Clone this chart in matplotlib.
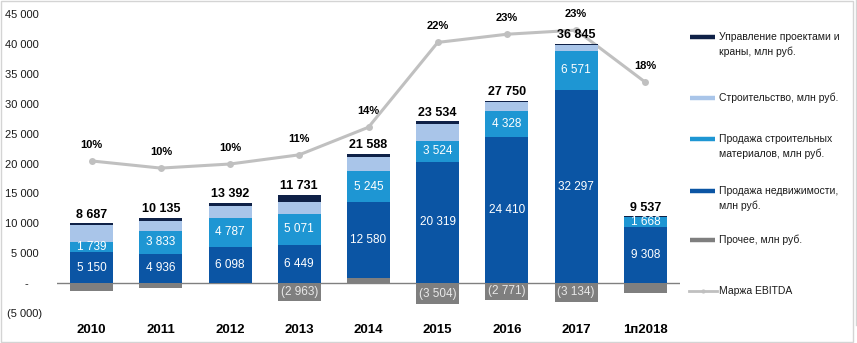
import matplotlib
matplotlib.use("Agg")
import matplotlib.pyplot as plt
from matplotlib.lines import Line2D
from matplotlib.patches import Rectangle
import numpy as np

plt.rcParams['font.family'] = ['Liberation Sans', 'DejaVu Sans']

# Revenue by segment, mln RUB
periods = ['2010', '2011', '2012', '2013', '2014', '2015', '2016', '2017', '1п2018']
real_estate = [5150, 4936, 6098, 6449, 12580, 20319, 24410, 32297, 9308]
materials = [1739, 3833, 4787, 5071, 5245, 3524, 4328, 6571, 1668]
construction = [2750, 1666, 1990, 2050, 2300, 2738, 1463, 880, 0]
management = [348, 500, 517, 1124, 563, 457, 320, 231, 181]
other = [-1300, -800, 0, -2963, 900, -3504, -2771, -3134, -1620]
# EBITDA margin, %
ebitda_margin = [10.4, 9.7, 10.1, 11.0, 13.7, 22.0, 22.8, 23.2, 18.1]

y_ticks = [-5000, 0, 5000, 10000, 15000, 20000, 25000, 30000, 35000, 40000, 45000]

C_MGMT = '#0f2147'
C_CONSTR = '#a9c5e9'
C_MAT = '#1e96d3'
C_RE = '#0b55a4'
C_OTHER = '#7f7f7f'
C_MARGIN = '#c0c0c0'

legend_labels = [
    (C_MGMT, ['Управление проектами и', 'краны, млн руб.']),
    (C_CONSTR, ['Строительство, млн руб.']),
    (C_MAT, ['Продажа строительных', 'материалов, млн руб.']),
    (C_RE, ['Продажа недвижимости,', 'млн руб.']),
    (C_OTHER, ['Прочее, млн руб.']),
]
margin_label = 'Маржа EBITDA'


def fmt(v):
    s = f"{abs(v):,}".replace(',', ' ')
    return f"({s})" if v < 0 else s


W, H = 857, 343
fig = plt.figure(figsize=(W / 100, H / 100), dpi=100)
ax = fig.add_axes([57 / W, 1 - 313 / H, (680 - 57) / W, (313 - 14) / H])

x = np.arange(len(periods))
bw = 0.62

other_arr = np.array(other, dtype=float)
base = np.clip(other_arr, 0, None)

# "Other" segment: below zero when negative, at the bottom of the stack when positive
ax.bar(x, other_arr, bw, bottom=0, color=C_OTHER, zorder=2)

bottom = base.copy()
stack = [(real_estate, C_RE, True), (materials, C_MAT, True),
         (construction, C_CONSTR, False), (management, C_MGMT, False)]
for vals, col, labelled in stack:
    vals = np.array(vals, dtype=float)
    ax.bar(x, vals, bw, bottom=bottom, color=col, zorder=2)
    if labelled:
        for xi, b, v in zip(x, bottom, vals):
            ax.text(xi, b + v / 2, fmt(int(v)), ha='center', va='center',
                    color='white', fontsize=8.5, zorder=3)
    bottom = bottom + vals

for xi, v in zip(x, other_arr):
    if abs(v) >= 2500:
        ax.text(xi, v / 2, fmt(int(v)), ha='center', va='center',
                color='#e8e8e8', fontsize=8.5, zorder=3)

# Net totals above each bar
totals = (np.array(real_estate) + np.array(materials) + np.array(construction)
          + np.array(management) + np.array(other))
for xi, top, t in zip(x, bottom, totals):
    ax.annotate(fmt(int(t)), (xi, top), xytext=(0, 2), textcoords='offset points',
                ha='center', va='bottom', fontsize=9, fontweight='bold', color='black',
                zorder=5)

ax.axhline(0, color='#808080', lw=1, zorder=1)
ax.set_xlim(-0.5, len(periods) - 0.5)
ax.set_ylim(-5000, 45000)
ax.set_yticks(y_ticks)
ylabels = []
for t in y_ticks:
    if t == 0:
        ylabels.append('-    ')
    elif t < 0:
        ylabels.append(fmt(t))
    else:
        ylabels.append(fmt(t) + ' ')
ax.set_yticklabels(ylabels, fontsize=8, color='#1a1a1a')
ax.set_xticks(x)
ax.set_xticklabels(periods, fontsize=9.5, fontweight='bold', color='black')
ax.tick_params(axis='both', length=0)
ax.tick_params(axis='x', pad=8)
ax.tick_params(axis='y', pad=11)
for s in ax.spines.values():
    s.set_visible(False)

# EBITDA margin on a hidden secondary scale, drawn beneath the bar layer
ax2 = ax.twinx()
ax2.set_ylim(-4.48, 24.78)
ax2.plot(x, ebitda_margin, color=C_MARGIN, lw=2.2, marker='o', ms=5,
         markeredgewidth=0, zorder=4)
for xi, m in zip(x, ebitda_margin):
    ax2.annotate(f"{m:.0f}%", (xi, m), xytext=(0, 11.5), textcoords='offset points',
                 ha='center', va='center', fontsize=8, fontweight='bold', color='black')
ax2.set_yticks([])
for s in ax2.spines.values():
    s.set_visible(False)
ax2.set_zorder(1)
ax.set_zorder(2)
ax.patch.set_visible(False)
ax2.patch.set_visible(False)

# Legend
def fx(px):
    return px / W


def fy(py):
    return 1 - py / H


rows_y = [36.7, 97.7, 139, 190.7, 240]
for (col, lines), yy in zip(legend_labels, rows_y):
    fig.add_artist(Line2D([fx(690), fx(715)], [fy(yy), fy(yy)], color=col, lw=3.2,
                          solid_capstyle='butt'))
    for i, line in enumerate(lines):
        fig.text(fx(719), fy(yy + 15 * i), line, fontsize=7.5, color='#1a1a1a',
                 ha='left', va='center')
ym = 290.7
fig.add_artist(Line2D([fx(689), fx(717)], [fy(ym), fy(ym)], color=C_MARGIN, lw=2))
fig.add_artist(Line2D([fx(703)], [fy(ym)], color=C_MARGIN, marker='o', ms=3,
                      markeredgewidth=0))
fig.text(fx(719), fy(ym), margin_label, fontsize=7.5, color='#1a1a1a',
         ha='left', va='center')

# Frame lines
fig.add_artist(Rectangle((fx(0.5), fy(342)), fx(853) - fx(0.5), fy(0.5) - fy(342),
                         fill=False, edgecolor='#d4d4d4', lw=1))
fig.add_artist(Line2D([fx(855.5), fx(855.5)], [fy(0), fy(325)], color='#d4d4d4', lw=1))

fig.savefig('out.png', dpi=100)
